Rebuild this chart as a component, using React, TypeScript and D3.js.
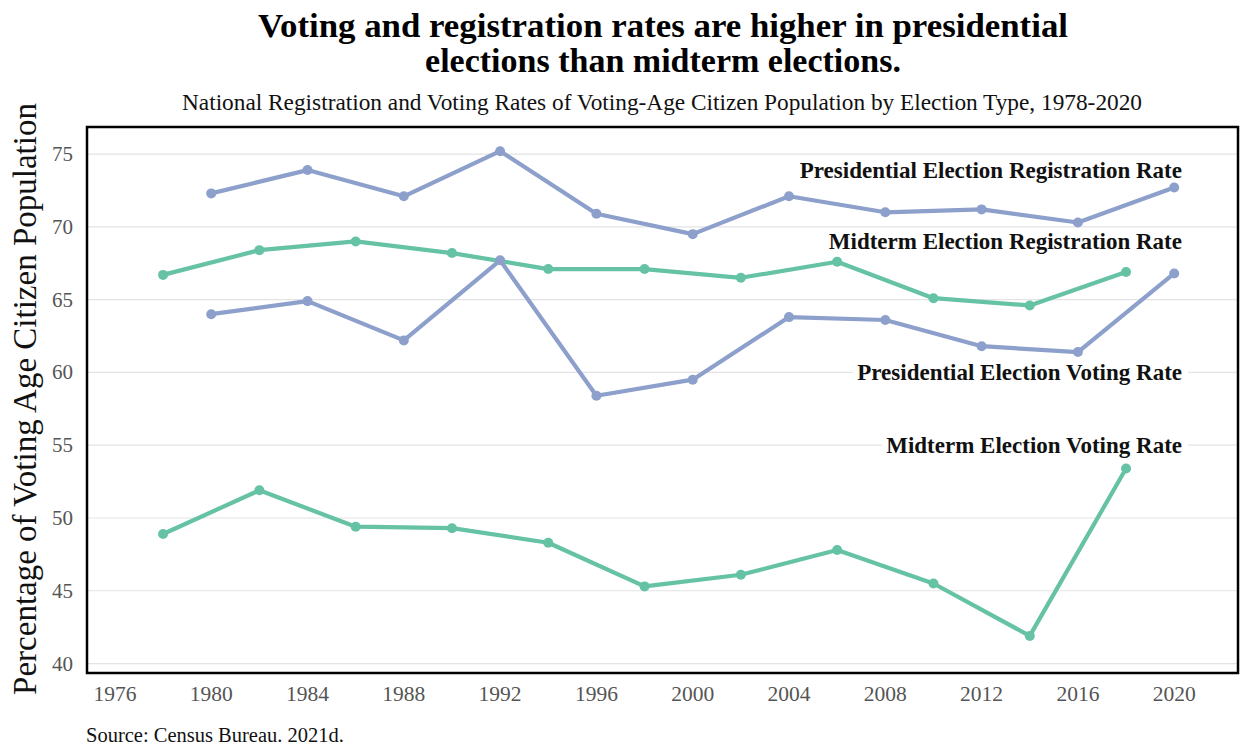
import React from "react";
import * as d3 from "d3";

// Election years
const presidentialYears = [1980, 1984, 1988, 1992, 1996, 2000, 2004, 2008, 2012, 2016, 2020];
const midtermYears = [1978, 1982, 1986, 1990, 1994, 1998, 2002, 2006, 2010, 2014, 2018];

// Rates (% of voting-age citizen population)
const presidentialRegistration = [72.3, 73.9, 72.1, 75.2, 70.9, 69.5, 72.1, 71.0, 71.2, 70.3, 72.7];
const presidentialVoting = [64.0, 64.9, 62.2, 67.7, 58.4, 59.5, 63.8, 63.6, 61.8, 61.4, 66.8];
const midtermRegistration = [66.7, 68.4, 69.0, 68.2, 67.1, 67.1, 66.5, 67.6, 65.1, 64.6, 66.9];
const midtermVoting = [48.9, 51.9, 49.4, 49.3, 48.3, 45.3, 46.1, 47.8, 45.5, 41.9, 53.4];

// Axis ticks
const xTicks = [1976, 1980, 1984, 1988, 1992, 1996, 2000, 2004, 2008, 2012, 2016, 2020];
const yTicks = [40, 45, 50, 55, 60, 65, 70, 75];

// Series labels and the value each label sits at
const seriesLabels = [
  "Presidential Election Registration Rate",
  "Midterm Election Registration Rate",
  "Presidential Election Voting Rate",
  "Midterm Election Voting Rate",
];
const labelValues = [73.9, 69.0, 60.0, 55.0];

const BLUE = "#8da0cb";
const GREEN = "#66c2a5";
const SERIF = "'Liberation Serif', 'Times New Roman', serif";
const LABEL_FONT = 23;

function measure(text: string, font: string): number {
  if (typeof document === "undefined") return text.length * 10;
  const c = document.createElement("canvas").getContext("2d");
  if (!c) return text.length * 10;
  c.font = font;
  return c.measureText(text).width;
}

export default function App() {
  const width = 1241;
  const height = 747;
  const left = 87;
  const right = 1238;
  const top = 127;
  const bottom = 673;

  const x = d3.scaleLinear().domain([1974.84, 2022.65]).range([left, right]);
  const y = d3.scaleLinear().domain([39.35, 76.86]).range([bottom, top]);

  const line = d3
    .line<[number, number]>()
    .x((d) => x(d[0]))
    .y((d) => y(d[1]));

  const series = [
    { years: presidentialYears, values: presidentialRegistration, color: BLUE },
    { years: midtermYears, values: midtermRegistration, color: GREEN },
    { years: presidentialYears, values: presidentialVoting, color: BLUE },
    { years: midtermYears, values: midtermVoting, color: GREEN },
  ];

  const labelRight = 1182;

  return (
    <svg
      width={width}
      height={height}
      style={{ position: "absolute", left: 0, top: 0, background: "#fff" }}
      fontFamily={SERIF}
    >
      <rect x={0} y={0} width={width} height={height} fill="#fff" />
      {/* Title */}
      <text x={663} y={37} textAnchor="middle" fontSize={34} fontWeight="bold" fill="#000"
        textLength={810} lengthAdjust="spacingAndGlyphs">
        Voting and registration rates are higher in presidential
      </text>
      <text x={663} y={72} textAnchor="middle" fontSize={34} fontWeight="bold" fill="#000">
        elections than midterm elections.
      </text>
      <text x={662} y={110} textAnchor="middle" fontSize={23} fill="#111"
        textLength={960} lengthAdjust="spacingAndGlyphs">
        National Registration and Voting Rates of Voting-Age Citizen Population by Election Type, 1978-2020
      </text>

      {/* Gridlines */}
      {yTicks.map((t) => (
        <line key={t} x1={left} x2={right} y1={y(t)} y2={y(t)} stroke="#e3e3e3" strokeWidth={1.2} />
      ))}

      {/* Series lines and points */}
      {series.map((s, i) => {
        const pts = s.years.map((yr, j) => [yr, s.values[j]] as [number, number]);
        return (
          <g key={i}>
            <path d={line(pts) || ""} fill="none" stroke={s.color} strokeWidth={4.2} strokeLinejoin="round" />
            {pts.map((p, j) => (
              <circle key={j} cx={x(p[0])} cy={y(p[1])} r={5} fill={s.color} />
            ))}
          </g>
        );
      })}

      {/* Series labels with white backing */}
      {seriesLabels.map((lab, i) => {
        const cy = y(labelValues[i]);
        const w = measure(lab, `bold ${LABEL_FONT}px ${SERIF}`);
        return (
          <g key={lab}>
            <rect x={labelRight - w - 4} y={cy - 12} width={w + 10} height={24} fill="#fff" />
            <text x={labelRight} y={cy + 8} textAnchor="end" fontSize={LABEL_FONT} fontWeight="bold" fill="#111">
              {lab}
            </text>
          </g>
        );
      })}

      {/* Frame */}
      <rect x={left} y={top} width={right - left} height={bottom - top} fill="none" stroke="#000" strokeWidth={2.5} />

      {/* Y ticks */}
      {yTicks.map((t) => (
        <text key={t} x={73} y={y(t) + 7} textAnchor="end" fontSize={21} fill="#555">
          {t}
        </text>
      ))}

      {/* X ticks */}
      {xTicks.map((t) => (
        <text key={t} x={x(t)} y={701} textAnchor="middle" fontSize={21.5} fill="#555">
          {t}
        </text>
      ))}

      {/* Y axis title */}
      <text
        transform={`translate(36, 399) rotate(-90)`}
        textAnchor="middle"
        fontSize={33}
        fill="#111"
      >
        Percentage of Voting Age Citizen Population
      </text>

      {/* Source */}
      <text x={86} y={742} fontSize={20.5} fill="#111">
        Source: Census Bureau. 2021d.
      </text>
    </svg>
  );
}
